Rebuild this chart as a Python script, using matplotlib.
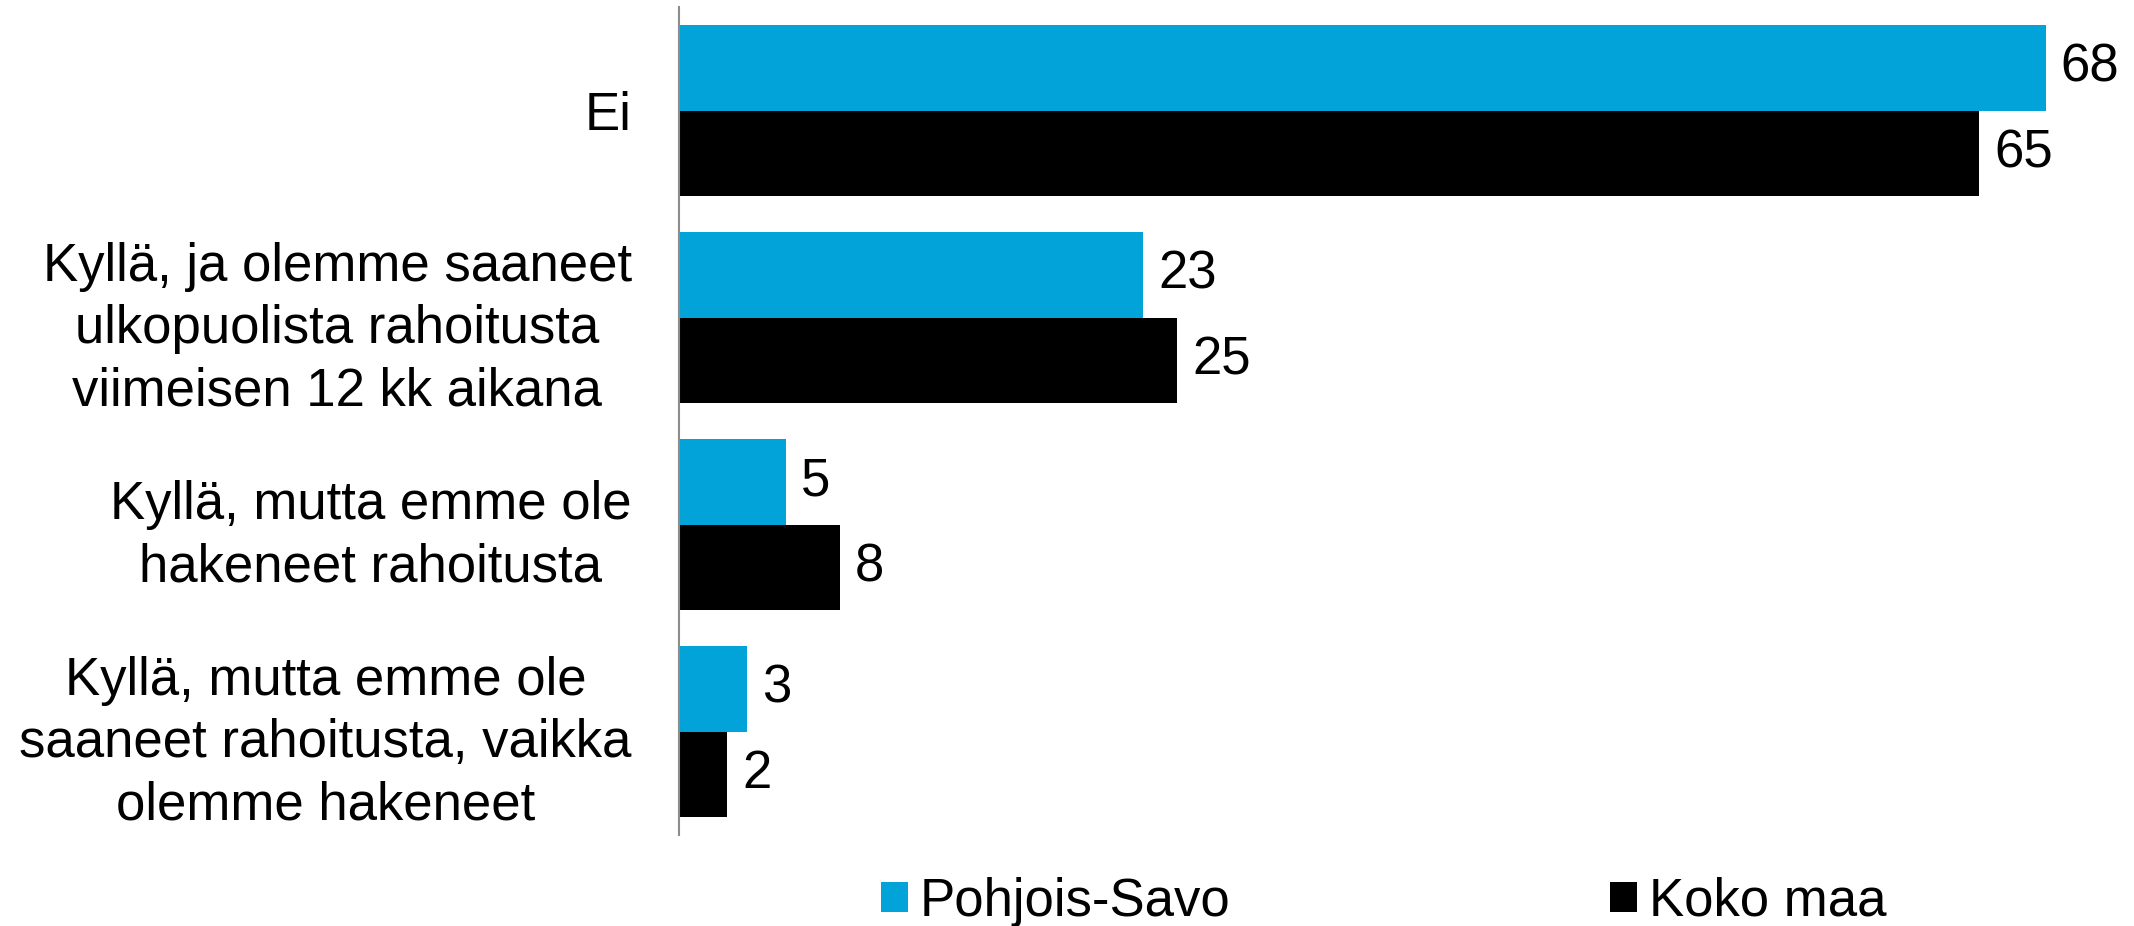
import matplotlib
matplotlib.use("Agg")
import matplotlib.pyplot as plt
from matplotlib.patches import Patch
import numpy as np

categories = [
    "Ei",
    "Kyllä, ja olemme saaneet\nulkopuolista rahoitusta\nviimeisen 12 kk aikana",
    "Kyllä, mutta emme ole\nhakeneet rahoitusta",
    "Kyllä, mutta emme ole\nsaaneet rahoitusta, vaikka\nolemme hakeneet",
]
series_names = ["Pohjois-Savo", "Koko maa"]
pohjois_savo = [68.0, 23.1, 5.3, 3.4]
koko_maa = [64.7, 24.8, 8.0, 2.4]

colors = ["#02A3D9", "#000000"]

plt.rcParams['font.family'] = ['Liberation Sans', 'DejaVu Sans']
FS = 38

fig = plt.figure(figsize=(21.34, 9.26), dpi=100)
W, H = 2134, 926
ax = fig.add_axes([679 / W, 1 - 835 / H, (2086 - 679) / W, (835 - 7) / H])

y = np.arange(len(categories))
bh = 0.415
for i, (vals, c) in enumerate(zip([pohjois_savo, koko_maa], colors)):
    pos = y - bh / 2 + i * bh
    ax.barh(pos, vals, height=bh, color=c, edgecolor='none', label=series_names[i])
    for p, v in zip(pos, vals):
        ax.annotate(f"{round(v):d}", xy=(v, p), xytext=(15, 0), textcoords='offset pixels',
                    va='center', ha='left', fontsize=FS, color='black')

ax.set_xlim(0, 70)
ax.set_ylim(len(categories) - 0.5, -0.5)
ax.set_yticks(y)
ax.set_yticklabels(categories, fontsize=FS, multialignment='center', linespacing=1.32)
ax.tick_params(axis='y', length=0, pad=34)
ax.set_xticks([])
for s in ['top', 'right', 'bottom']:
    ax.spines[s].set_visible(False)
ax.spines['left'].set_color('#8c8c8c')
ax.spines['left'].set_linewidth(1.5)

handles = [Patch(facecolor=c, edgecolor='none') for c in colors]
fig.legend(handles, series_names, loc='center left', bbox_to_anchor=(881 / W, 1 - 902 / H),
           ncol=2, frameon=False, fontsize=FS, handlelength=0.51, handleheight=0.51,
           handletextpad=0.22, columnspacing=7.2, borderpad=0, borderaxespad=0)

fig.savefig("out.png", dpi=100)
